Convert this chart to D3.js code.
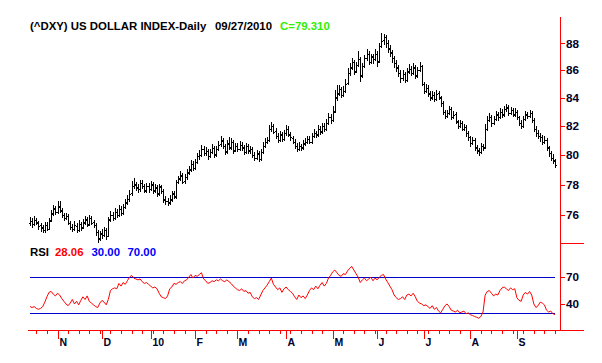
<!DOCTYPE html>
<html lang="en">
<head>
<meta charset="utf-8">
<title>US Dollar Index - Daily</title>
<script src="https://d3js.org/d3.v7.min.js"></script>
<style>
  body { margin: 0; background: #fff; }
  svg { display: block; font-family: "Liberation Sans", Arial, sans-serif; font-weight: bold; }
</style>
</head>
<body>
<script>
// first trading day shown, bars run one per weekday from here
var startDate = "2009-10-14";

var opens = [
  75.50,75.60,75.42,75.68,75.50, 75.32,75.20,75.00,75.35,75.10,
  75.62,76.08,76.40,76.20,76.52, 76.28,76.00,75.82,75.90,75.50,
  75.20,75.12,75.30,75.02,75.40, 75.20,75.50,75.72,75.40,75.78,
  75.52,75.35,74.90,74.50,74.82, 74.72,75.00,74.65,75.72,76.00,
  75.82,76.18,76.02,76.38,76.10, 76.52,76.80,77.02,77.42,77.90,
  78.00,77.82,77.70,78.08,77.92, 77.60,77.90,77.72,78.00,77.62,
  77.80,77.42,77.85,77.58,77.00, 76.92,76.82,77.00,77.40,77.22,
  78.18,78.42,78.60,78.22,78.48, 78.82,79.00,79.38,79.12,79.50,
  79.92,80.00,80.42,80.12,80.28, 79.92,80.22,80.48,80.05,80.42,
  80.72,80.98,80.58,80.25,80.78, 80.52,80.88,80.32,80.60,80.42,
  80.68,80.52,80.22,80.58,80.32, 80.40,80.02,79.80,80.08,79.72,
  80.22,80.62,80.88,81.05,81.78, 82.00,81.62,81.32,81.00,81.42,
  81.12,81.48,81.82,81.42,81.18, 80.92,80.62,80.42,80.60,80.52,
  80.78,80.92,81.10,80.92,81.32, 81.48,81.42,81.82,81.62,82.02,
  81.82,82.22,82.62,82.42,83.05, 84.00,84.32,84.60,84.22,84.52,
  85.05,85.82,86.22,86.60,85.92, 86.42,86.80,85.62,86.32,86.88,
  87.22,86.62,87.00,86.82,87.20, 86.65,87.82,88.22,88.48,88.00,
  87.62,87.32,86.92,86.52,86.22, 85.82,85.42,85.72,85.32,85.92,
  86.12,85.82,86.22,85.62,86.00, 86.28,85.00,84.52,84.68,84.32,
  84.00,84.22,83.92,84.32,84.00, 83.62,83.00,82.72,82.92,83.22,
  82.62,82.82,82.32,82.00,82.22, 81.82,81.92,81.52,81.22,80.82,
  81.00,80.52,80.32,80.22,80.58, 80.52,81.82,82.42,82.62,82.22,
  82.52,82.82,82.62,83.00,82.82, 83.22,83.32,82.92,83.12,82.82,
  83.00,82.62,82.22,82.00,82.52, 82.82,82.72,82.92,82.42,81.82,
  81.52,81.32,81.22,80.92,81.00, 80.52,80.12,79.82,79.62
];

var highs = [
  75.85,75.78,75.92,75.80,75.60, 75.45,75.30,75.50,75.48,75.80,
  76.30,76.60,76.55,76.85,76.88, 76.40,76.12,76.10,76.00,75.60,
  75.40,75.55,75.42,75.65,75.52, 75.70,75.92,75.82,75.95,75.88,
  75.62,75.45,75.02,74.95,75.05, 75.20,75.10,75.85,76.20,76.15,
  76.40,76.35,76.62,76.55,76.70, 77.00,77.25,77.60,78.20,78.40,
  78.15,78.00,78.25,78.30,78.02, 78.10,78.05,78.22,78.12,78.00,
  77.92,78.00,77.95,77.70,77.20, 77.10,77.30,77.55,77.52,78.30,
  78.55,78.85,78.75,78.70,79.00, 79.20,79.62,79.55,79.70,80.10,
  80.30,80.65,80.55,80.50,80.40, 80.35,80.72,80.60,80.55,80.90,
  81.30,81.10,80.70,81.00,81.20, 81.10,81.00,80.80,80.75,80.90,
  80.85,80.62,80.75,80.70,80.60, 80.52,80.15,80.30,80.20,80.40,
  80.85,81.10,81.20,82.05,82.25, 82.10,81.80,81.45,81.60,81.55,
  81.70,82.00,81.95,81.55,81.30, 81.05,80.75,80.85,80.72,81.00,
  81.10,81.30,81.25,81.50,81.75, 81.62,82.00,81.95,82.20,82.15,
  82.45,82.90,82.80,83.40,84.50, 84.85,84.90,84.75,84.80,85.30,
  86.10,86.50,86.90,86.75,86.60, 87.40,86.95,86.50,87.10,87.50,
  87.35,87.20,87.15,87.50,87.35, 88.00,88.75,88.70,88.60,88.20,
  87.80,87.45,87.05,86.70,86.35, 85.95,86.00,85.85,86.10,86.40,
  86.25,86.50,86.35,86.20,86.55, 86.35,85.10,84.95,84.85,84.45,
  84.45,84.35,84.50,84.45,84.10, 83.70,83.10,83.10,83.40,83.30,
  83.00,82.95,82.40,82.40,82.30, 82.10,82.00,81.60,81.30,81.20,
  81.10,80.65,80.45,80.75,80.70, 82.10,82.70,82.90,82.75,82.70,
  83.00,82.95,83.20,83.15,83.40, 83.55,83.45,83.30,83.25,83.20,
  83.10,82.70,82.35,82.65,83.05, 82.95,83.10,83.00,82.50,81.95,
  81.65,81.45,81.35,81.30,81.10, 80.60,80.25,80.00,79.70
];

var lows = [
  75.30,75.20,75.30,75.35,75.05, 74.95,74.85,74.90,74.98,75.05,
  75.55,75.95,76.00,76.10,76.15, 75.85,75.62,75.70,75.35,75.05,
  74.95,75.00,74.90,74.95,75.02, 75.10,75.40,75.25,75.30,75.35,
  75.20,74.70,74.20,74.35,74.50, 74.60,74.45,74.60,75.60,75.62,
  75.70,75.85,75.92,75.98,76.02, 76.40,76.70,76.90,77.30,77.75,
  77.60,77.45,77.55,77.75,77.45, 77.50,77.50,77.60,77.40,77.45,
  77.20,77.30,77.40,76.80,76.65, 76.60,76.70,76.90,77.05,77.10,
  78.05,78.25,78.05,78.10,78.35, 78.65,78.90,78.95,79.00,79.40,
  79.70,79.90,79.95,79.95,79.70, 79.80,80.10,79.85,79.90,80.30,
  80.60,80.45,80.00,80.10,80.35, 80.40,80.10,80.20,80.20,80.30,
  80.30,80.00,80.10,80.10,80.10, 79.80,79.60,79.70,79.55,79.60,
  80.10,80.50,80.75,80.95,81.60, 81.45,81.15,80.85,80.90,80.95,
  81.00,81.35,81.25,81.00,80.75, 80.45,80.25,80.30,80.30,80.40,
  80.65,80.80,80.75,80.80,81.20, 81.20,81.30,81.40,81.50,81.60,
  81.70,82.10,82.20,82.30,82.95, 83.80,84.15,84.05,84.10,84.40,
  84.95,85.60,86.05,85.70,85.80, 86.30,85.20,85.50,86.20,86.70,
  86.40,86.50,86.50,86.70,86.30, 86.55,87.65,87.90,87.70,87.30,
  87.00,86.60,86.20,85.90,85.55, 85.10,85.25,85.10,85.20,85.75,
  85.60,85.70,85.40,85.50,85.90, 84.90,84.30,84.40,84.10,83.80,
  83.85,83.70,83.80,83.85,83.40, 82.80,82.50,82.60,82.80,82.45,
  82.50,82.15,81.85,81.90,81.65, 81.70,81.30,81.00,80.60,80.70,
  80.30,80.10,79.95,80.10,80.30, 80.45,81.70,82.30,81.95,82.10,
  82.40,82.40,82.50,82.60,82.70, 83.05,82.75,82.80,82.65,82.70,
  82.45,82.00,81.85,81.90,82.40, 82.50,82.60,82.25,81.60,81.30,
  81.10,80.95,80.70,80.80,80.30, 79.90,79.60,79.40,79.15
];

var closes = [
  75.62,75.41,75.70,75.52,75.30, 75.18,75.02,75.33,75.12,75.64,
  76.10,76.42,76.18,76.55,76.30, 76.02,75.80,75.92,75.48,75.22,
  75.10,75.32,75.00,75.41,75.18, 75.52,75.70,75.38,75.80,75.50,
  75.36,74.92,74.48,74.80,74.70, 75.02,74.62,75.70,76.02,75.80,
  76.20,76.00,76.40,76.12,76.50, 76.82,77.05,77.40,77.92,78.02,
  77.80,77.68,78.10,77.90,77.62, 77.92,77.70,78.02,77.60,77.82,
  77.40,77.88,77.60,77.02,76.90, 76.80,77.02,77.42,77.20,78.20,
  78.40,78.62,78.20,78.50,78.80, 79.02,79.40,79.10,79.52,79.90,
  80.02,80.40,80.10,80.30,79.90, 80.20,80.50,80.02,80.40,80.70,
  81.00,80.60,80.22,80.80,80.50, 80.90,80.30,80.62,80.40,80.70,
  80.50,80.20,80.60,80.30,80.42, 80.00,79.82,80.10,79.70,80.20,
  80.60,80.90,81.02,81.80,82.02, 81.60,81.30,81.02,81.40,81.10,
  81.50,81.80,81.40,81.20,80.90, 80.60,80.40,80.62,80.50,80.80,
  80.90,81.12,80.90,81.30,81.50, 81.40,81.80,81.60,82.00,81.80,
  82.20,82.60,82.40,83.02,84.02, 84.30,84.62,84.20,84.50,85.02,
  85.80,86.20,86.62,85.90,86.40, 86.82,85.60,86.30,86.90,87.20,
  86.60,87.02,86.80,87.22,86.62, 87.80,88.20,88.50,88.02,87.60,
  87.30,86.90,86.50,86.20,85.80, 85.40,85.70,85.30,85.90,86.10,
  85.80,86.20,85.60,86.02,86.30, 85.02,84.50,84.70,84.30,84.02,
  84.20,83.90,84.30,84.02,83.60, 83.02,82.70,82.90,83.20,82.60,
  82.80,82.30,82.02,82.20,81.80, 81.90,81.50,81.20,80.80,81.02,
  80.50,80.30,80.20,80.60,80.50, 81.80,82.40,82.60,82.20,82.50,
  82.80,82.60,83.02,82.80,83.20, 83.30,82.90,83.10,82.80,83.02,
  82.60,82.20,82.02,82.50,82.80, 82.70,82.90,82.40,81.80,81.50,
  81.30,81.20,80.90,81.02,80.50, 80.10,79.80,79.60,79.31
];

var rsi = [
  37,36,37,35,34, 35,37,42,48,53,
  54,51,49,52,50, 46,43,40,38,41,
  45,40,43,39,44, 48,45,49,43,41,
  39,37,36,41,44, 42,39,45,55,57,
  58,57,63,60,64, 62,66,70,72,69,
  68,67,68,65,63, 64,62,60,58,59,
  57,52,48,47,46, 49,57,59,63,62,
  64,65,63,66,67, 70,73,69,72,71,
  73,75,68,66,63, 64,66,65,67,66,
  68,66,65,67,65, 63,60,58,56,55,
  57,54,55,52,53, 48,46,47,45,50,
  55,58,61,65,69, 62,59,56,58,53,
  57,59,56,54,52, 48,45,50,47,49,
  46,50,55,58,56, 60,57,61,64,60,
  63,69,72,76,78, 75,72,71,74,73,
  77,80,82,78,74, 70,64,67,69,66,
  68,70,66,69,67, 70,72,73,68,64,
  60,56,50,47,45, 46,48,45,50,51,
  49,52,48,43,41, 40,38,39,37,35,
  38,34,36,32,30, 34,38,40,37,33,
  32,31,33,30,31, 32,29,30,28,27,
  26,25,24,26,31, 50,54,55,52,49,
  51,50,55,58,59, 57,55,58,56,57,
  47,44,43,50,53, 51,54,50,40,36,
  38,42,41,39,33, 31,32,29,28.06
];

var monthLabels = ["N", "D", "10", "F", "M", "A", "M", "J", "J", "A", "S"];
var priceTicks = [76, 78, 80, 82, 84, 86, 88];
var rsiTickLabels = [40, 70];
var rsiLevels = [30, 70];

var width = 602, height = 363;
var axisRed = "#ff0000", labelInk = "#00002a";

// one bar per weekday
var dates = [];
var day = d3.timeParse("%Y-%m-%d")(startDate);
while (dates.length < closes.length) {
  if (day.getDay() != 0 && day.getDay() != 6) dates.push(day);
  day = d3.timeDay.offset(day, 1);
}

var svg = d3.select("body").append("svg")
    .attr("width", width)
    .attr("height", height);

var x = d3.scaleLinear().domain([0, closes.length - 1]).range([30, 555]);
var y = d3.scaleLog().domain([74.2, 90]).range([243, 17]);
var yr = d3.scaleLinear().domain([10, 108]).range([330.7, 243.3]);

// titles
var title = svg.append("g").attr("font-size", "11.4px");
title.append("text").attr("x", 30).attr("y", 30).attr("fill", "#000")
    .text("(^DXY) US DOLLAR INDEX-Daily");
title.append("text").attr("x", 215).attr("y", 30).attr("fill", "#000")
    .text(d3.timeFormat("%m/%d/%Y")(dates[dates.length - 1]));
title.append("text").attr("x", 280).attr("y", 30).attr("fill", "#33ee00")
    .text("C=" + closes[closes.length - 1].toFixed(3));

var rsiTitle = svg.append("g").attr("font-size", "11.4px");
rsiTitle.append("text").attr("x", 30).attr("y", 256).attr("fill", "#000").text("RSI");
rsiTitle.append("text").attr("x", 55).attr("y", 256).attr("fill", "#ff0000")
    .text(rsi[rsi.length - 1].toFixed(2));
rsiTitle.append("text").attr("x", 91.5).attr("y", 256).attr("fill", "#0000ff")
    .text(rsiLevels[0].toFixed(2));
rsiTitle.append("text").attr("x", 127.5).attr("y", 256).attr("fill", "#0000ff")
    .text(rsiLevels[1].toFixed(2));

// price bars (open tick left, close tick right)
svg.append("path")
    .attr("fill", "none")
    .attr("stroke", "#000")
    .attr("stroke-width", 1)
    .attr("shape-rendering", "crispEdges")
    .attr("d", closes.map(function(c, i) {
      var xr = Math.round(x(i));
      var yh = Math.floor(y(highs[i])), yl = Math.ceil(y(lows[i]));
      var yo = Math.round(y(opens[i])) + 0.5, yc = Math.round(y(c)) + 0.5;
      return "M" + (xr + 0.5) + "," + yh + "V" + yl +
             "M" + (xr - 1) + "," + yo + "H" + xr +
             "M" + (xr + 1) + "," + yc + "H" + (xr + 2);
    }).join(""));

// RSI reference lines
svg.append("g").selectAll("line")
    .data(rsiLevels)
    .enter().append("line")
    .attr("x1", x(0)).attr("x2", x(closes.length - 1))
    .attr("y1", function(d) { return Math.round(yr(d)) + 0.5; })
    .attr("y2", function(d) { return Math.round(yr(d)) + 0.5; })
    .attr("stroke", "#0000cc")
    .attr("shape-rendering", "crispEdges");

svg.append("path")
    .datum(rsi)
    .attr("fill", "none")
    .attr("stroke", "#ff0000")
    .attr("stroke-width", 1)
    .attr("d", d3.line()
      .x(function(d, i) { return x(i); })
      .y(function(d) { return yr(d); }));

// axes frame
var frame = svg.append("g")
    .attr("stroke", axisRed)
    .attr("shape-rendering", "crispEdges");
frame.append("line").attr("x1", 560.5).attr("x2", 560.5).attr("y1", 17).attr("y2", 331);
frame.append("line").attr("x1", 28).attr("x2", 584).attr("y1", 330.5).attr("y2", 330.5);
frame.append("line").attr("x1", 560).attr("x2", 584).attr("y1", 243.5).attr("y2", 243.5);

// right price axis
var py = svg.append("g").attr("transform", "translate(560.5,0)");
py.selectAll("line").data(priceTicks).enter().append("line")
    .attr("x1", 0).attr("x2", 4)
    .attr("y1", function(d) { return Math.round(y(d)) + 0.5; })
    .attr("y2", function(d) { return Math.round(y(d)) + 0.5; })
    .attr("stroke", axisRed).attr("shape-rendering", "crispEdges");
py.selectAll("text").data(priceTicks).enter().append("text")
    .attr("x", 5.5)
    .attr("y", function(d) { return y(d); })
    .attr("dy", "0.36em")
    .attr("font-size", "11.7px")
    .attr("fill", labelInk)
    .text(function(d) { return d; });

// right RSI axis
var ry = svg.append("g").attr("transform", "translate(560.5,0)");
ry.selectAll("line").data(rsiTickLabels).enter().append("line")
    .attr("x1", 0).attr("x2", 4)
    .attr("y1", function(d) { return Math.round(yr(d)) + 0.5; })
    .attr("y2", function(d) { return Math.round(yr(d)) + 0.5; })
    .attr("stroke", axisRed).attr("shape-rendering", "crispEdges");
ry.selectAll("text").data(rsiTickLabels).enter().append("text")
    .attr("x", 5.5)
    .attr("y", function(d) { return yr(d); })
    .attr("dy", "0.36em")
    .attr("font-size", "11.7px")
    .attr("fill", labelInk)
    .text(function(d) { return d; });

// bottom time axis: weekly minor ticks, month major ticks
var monthStarts = [];
dates.forEach(function(d, i) {
  if (i > 0 && d.getMonth() != dates[i - 1].getMonth()) monthStarts.push(i);
});
var mondays = [];
dates.forEach(function(d, i) { if (d.getDay() == 1) mondays.push(i); });

var tx = svg.append("g")
    .attr("stroke", axisRed)
    .attr("shape-rendering", "crispEdges");
tx.selectAll("line.minor").data(mondays).enter().append("line")
    .attr("class", "minor")
    .attr("x1", function(i) { return Math.round(x(i)) + 0.5; })
    .attr("x2", function(i) { return Math.round(x(i)) + 0.5; })
    .attr("y1", 331).attr("y2", 334);
tx.selectAll("line.major").data(monthStarts).enter().append("line")
    .attr("class", "major")
    .attr("x1", function(i) { return Math.round(x(i)) + 0.5; })
    .attr("x2", function(i) { return Math.round(x(i)) + 0.5; })
    .attr("y1", 331).attr("y2", 339);

svg.append("g").selectAll("text")
    .data(monthStarts)
    .enter().append("text")
    .attr("x", function(i) { return Math.round(x(i)) + 1.5; })
    .attr("y", 345.8)
    .attr("font-size", "10.5px")
    .attr("fill", labelInk)
    .text(function(i, k) { return monthLabels[k]; });
</script>
</body>
</html>
